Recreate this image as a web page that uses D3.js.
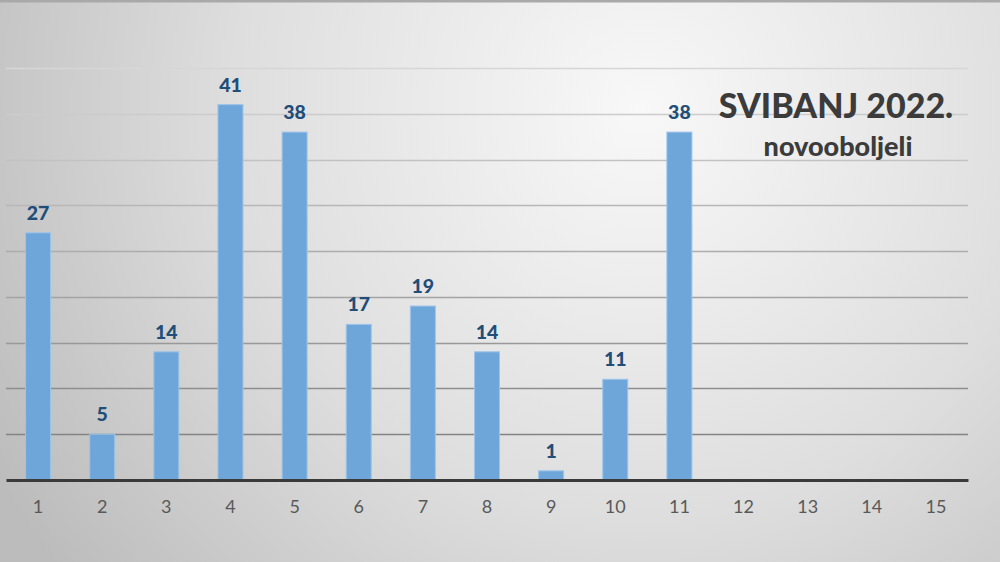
<!DOCTYPE html>
<html>
  <head>
    <meta charset="UTF-8">
    <title>Svibanj 2022. novooboljeli</title>
    <style>
      html, body { margin: 0; padding: 0; }
      body { width: 1000px; height: 562px; overflow: hidden; }
      text { font-family: Lato, "Noto Sans", sans-serif; }
    </style>
  </head>
  <body>

    <svg class="chart"></svg>

    <script src="https://cdnjs.cloudflare.com/ajax/libs/d3/7.8.5/d3.min.js"></script>
    <script>

// data
var days = ["1","2","3","4","5","6","7","8","9","10","11","12","13","14","15"];
var cases = [27, 5, 14, 41, 38, 17, 19, 14, 1, 11, 38, null, null, null, null];
var gridValues = [5, 10, 15, 20, 25, 30, 35, 40, 45];
var titleLines = ["SVIBANJ 2022.", "novooboljeli"];

var width = 1000, height = 562;
var margin = {left: 6, right: 32, top: 68, bottom: 82};

var svg = d3.select("svg")
    .attr("width", width)
    .attr("height", height);

// background gradient
var defs = svg.append("defs");
var grad = defs.append("radialGradient")
    .attr("id", "bg")
    .attr("gradientUnits", "userSpaceOnUse")
    .attr("cx", 640).attr("cy", 110).attr("r", 740);
grad.append("stop").attr("offset", "0%").attr("stop-color", "#f8f8f8");
grad.append("stop").attr("offset", "55%").attr("stop-color", "#dedede");
grad.append("stop").attr("offset", "100%").attr("stop-color", "#bcbcbc");

svg.append("rect")
    .attr("width", width).attr("height", height)
    .attr("fill", "url(#bg)");

// top border
svg.append("rect")
    .attr("width", width).attr("height", 2.5)
    .attr("fill", "#a9a9a9");

var x = d3.scaleBand()
    .domain(days)
    .range([margin.left, width - margin.right])
    .paddingInner(0.61)
    .paddingOuter(0.305);

var y = d3.scaleLinear()
    .domain([0, 45])
    .range([height - margin.bottom, margin.top]);

var gridColor = d3.scaleLinear()
    .domain([0, 45])
    .range(["#7a7a7a", "#d6d6d6"]);

// gridlines
svg.append("g")
    .attr("class", "grid")
  .selectAll("line")
  .data(gridValues)
  .enter().append("line")
    .attr("x1", margin.left)
    .attr("x2", width - margin.right)
    .attr("y1", function(d) { return Math.round(y(d)) + 0.5; })
    .attr("y2", function(d) { return Math.round(y(d)) + 0.5; })
    .attr("stroke", function(d) { return gridColor(d); })
    .attr("stroke-width", 1.5);

// bars
var data = days.map(function(d, i) { return {day: d, value: cases[i]}; });

svg.append("g")
    .attr("class", "bars")
  .selectAll("rect")
  .data(data.filter(function(d) { return d.value != null; }))
  .enter().append("rect")
    .attr("x", function(d) { return x(d.day); })
    .attr("y", function(d) { return y(d.value); })
    .attr("width", x.bandwidth())
    .attr("height", function(d) { return y(0) - y(d.value); })
    .attr("fill", "#6fa6da")
    .attr("stroke", "#9cc4ea")
    .attr("stroke-width", 1);

// value labels
svg.append("g")
    .attr("class", "labels")
  .selectAll("text")
  .data(data.filter(function(d) { return d.value != null; }))
  .enter().append("text")
    .attr("x", function(d) { return x(d.day) + x.bandwidth() / 2; })
    .attr("y", function(d) { return y(d.value) - 13; })
    .attr("text-anchor", "middle")
    .attr("font-size", "19.5px")
    .attr("font-weight", "900")
    .attr("fill", "#1f4e79")
    .text(function(d) { return d.value; });

// x axis
var xAxis = svg.append("g")
    .attr("class", "x-axis")
    .attr("transform", "translate(0," + y(0) + ")")
    .call(d3.axisBottom(x).tickSize(0).tickPadding(20));

xAxis.select(".domain")
    .attr("stroke", "#3a3a3a")
    .attr("stroke-width", 3);

xAxis.selectAll("text")
    .attr("font-size", "18px")
    .attr("fill", "#595959")
    .style("font-family", "Lato, 'Noto Sans', sans-serif");

// title
svg.append("text")
    .attr("x", 836).attr("y", 118)
    .attr("text-anchor", "middle")
    .attr("font-size", "34px")
    .attr("font-weight", "900")
    .attr("fill", "#3b3b3b")
    .text(titleLines[0]);

svg.append("text")
    .attr("x", 838).attr("y", 156)
    .attr("text-anchor", "middle")
    .attr("font-size", "27px")
    .attr("font-weight", "900")
    .attr("fill", "#3b3b3b")
    .text(titleLines[1]);

</script>
  </body>
</html>
